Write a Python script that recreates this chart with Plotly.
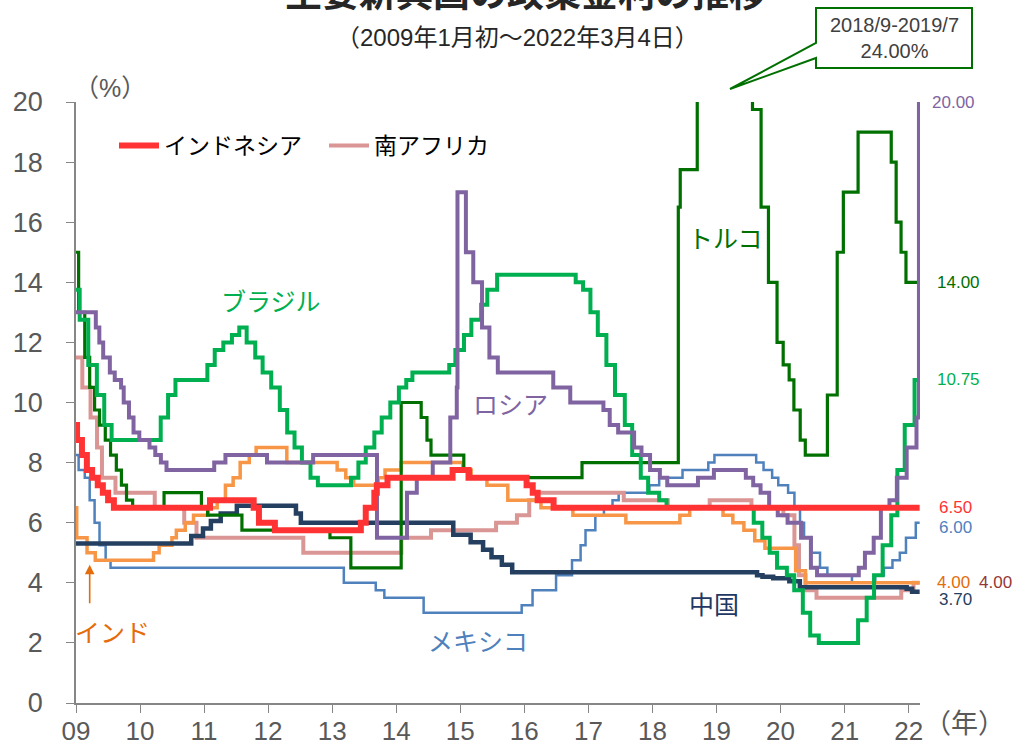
import plotly.graph_objects as go

# ---------------------------------------------------------------------------
# Policy rates (%), step series: date of change -> new rate
# ---------------------------------------------------------------------------
indonesia_dates = ["2009-01-01", "2009-01-07", "2009-02-04", "2009-03-04", "2009-04-03",
                   "2009-05-05", "2009-06-03", "2009-07-03", "2009-08-05", "2011-02-04",
                   "2011-10-11", "2011-11-10", "2012-02-09", "2013-06-13", "2013-07-11",
                   "2013-08-29", "2013-09-12", "2013-11-12", "2014-11-18", "2015-02-17",
                   "2016-01-14", "2016-02-18", "2016-03-17", "2016-06-16", "2022-03-04"]
indonesia_rates = [9.25, 8.75, 8.25, 7.75, 7.5, 7.25, 7.0, 6.75, 6.5, 6.75,
                   6.5, 6.0, 5.75, 6.0, 6.5, 7.0, 7.25, 7.5, 7.75, 7.5,
                   7.25, 7.0, 6.75, 6.5, 6.5]

south_africa_dates = ["2009-01-01", "2009-02-06", "2009-03-25", "2009-05-01", "2009-05-29",
                      "2009-08-14", "2010-03-26", "2010-09-10", "2010-11-19", "2012-07-20",
                      "2014-01-30", "2014-07-18", "2015-07-24", "2015-11-20", "2016-01-29",
                      "2016-03-18", "2017-07-21", "2018-03-29", "2018-11-23", "2019-07-19",
                      "2020-01-17", "2020-03-20", "2020-04-15", "2020-05-22", "2020-07-24",
                      "2021-11-19", "2022-01-28", "2022-03-04"]
south_africa_rates = [11.5, 10.5, 9.5, 8.5, 7.5, 7.0, 6.5, 6.0, 5.5, 5.0,
                      5.5, 5.75, 6.0, 6.25, 6.75, 7.0, 6.75, 6.5, 6.75, 6.5,
                      6.25, 5.25, 4.25, 3.75, 3.5, 3.75, 4.0, 4.0]

india_dates = ["2009-01-01", "2009-01-05", "2009-03-05", "2009-04-21", "2010-03-19",
               "2010-04-20", "2010-07-02", "2010-07-27", "2010-09-16", "2010-11-02",
               "2011-01-25", "2011-03-17", "2011-05-03", "2011-06-16", "2011-07-26",
               "2011-09-16", "2011-10-25", "2012-04-17", "2013-01-29", "2013-03-19",
               "2013-05-03", "2013-09-20", "2013-10-29", "2014-01-28", "2015-01-15",
               "2015-03-04", "2015-06-02", "2015-09-29", "2016-04-05", "2016-10-04",
               "2017-08-02", "2018-06-06", "2018-08-01", "2019-02-07", "2019-04-04",
               "2019-06-06", "2019-08-07", "2019-10-04", "2020-03-27", "2020-05-22",
               "2022-03-04"]
india_rates = [6.5, 5.5, 5.0, 4.75, 5.0, 5.25, 5.5, 5.75, 6.0, 6.25,
               6.5, 6.75, 7.25, 7.5, 8.0, 8.25, 8.5, 8.0, 7.75, 7.5,
               7.25, 7.5, 7.75, 8.0, 7.75, 7.5, 7.25, 6.75, 6.5, 6.25,
               6.0, 6.25, 6.5, 6.25, 6.0, 5.75, 5.4, 5.15, 4.4, 4.0,
               4.0]

mexico_dates = ["2009-01-01", "2009-01-16", "2009-02-20", "2009-03-20", "2009-04-17",
                "2009-05-15", "2009-06-19", "2009-07-17", "2013-03-08", "2013-09-06",
                "2013-10-25", "2014-06-06", "2015-12-17", "2016-02-17", "2016-06-30",
                "2016-09-29", "2016-11-17", "2016-12-15", "2017-02-09", "2017-03-30",
                "2017-05-18", "2017-06-22", "2017-12-14", "2018-02-08", "2018-06-21",
                "2018-11-15", "2018-12-20", "2019-08-15", "2019-09-26", "2019-11-14",
                "2019-12-19", "2020-02-13", "2020-03-20", "2020-04-21", "2020-05-14",
                "2020-06-25", "2020-08-13", "2020-09-24", "2021-02-11", "2021-06-24",
                "2021-08-12", "2021-09-30", "2021-11-11", "2021-12-16", "2022-02-10",
                "2022-03-04"]
mexico_rates = [8.25, 7.75, 7.5, 6.75, 6.0, 5.25, 4.75, 4.5, 4.0, 3.75,
                3.5, 3.0, 3.25, 3.75, 4.25, 4.75, 5.25, 5.75, 6.25, 6.5,
                6.75, 7.0, 7.25, 7.5, 7.75, 8.0, 8.25, 8.0, 7.75, 7.5,
                7.25, 7.0, 6.5, 6.0, 5.5, 5.0, 4.5, 4.25, 4.0, 4.25,
                4.5, 4.75, 5.0, 5.5, 6.0, 6.0]

china_dates = ["2009-01-01", "2010-10-20", "2010-12-26", "2011-02-09", "2011-04-06",
               "2011-07-07", "2012-06-08", "2012-07-06", "2014-11-22", "2015-03-01",
               "2015-05-11", "2015-06-28", "2015-08-26", "2015-10-24", "2019-08-20",
               "2019-09-20", "2019-11-20", "2020-02-20", "2020-04-20", "2021-12-20",
               "2022-01-20", "2022-03-04"]
china_rates = [5.31, 5.56, 5.81, 6.06, 6.31, 6.56, 6.31, 6.0, 5.6, 5.35,
               5.1, 4.85, 4.6, 4.35, 4.25, 4.2, 4.15, 4.05, 3.85, 3.8,
               3.7, 3.7]

russia_dates = ["2009-01-01", "2009-04-24", "2009-05-14", "2009-06-05", "2009-07-13",
                "2009-08-10", "2009-09-15", "2009-09-30", "2009-10-30", "2009-11-25",
                "2009-12-28", "2010-02-24", "2010-03-29", "2010-04-30", "2010-06-01",
                "2011-02-28", "2011-05-03", "2011-12-26", "2012-09-14", "2013-09-13",
                "2014-03-03", "2014-04-28", "2014-07-28", "2014-11-05", "2014-12-12",
                "2014-12-16", "2015-02-02", "2015-03-16", "2015-05-05", "2015-06-16",
                "2015-08-03", "2016-06-14", "2016-09-19", "2017-03-27", "2017-05-02",
                "2017-06-19", "2017-09-18", "2017-10-30", "2017-12-18", "2018-02-12",
                "2018-03-26", "2018-09-17", "2018-12-17", "2019-06-17", "2019-07-29",
                "2019-09-09", "2019-10-28", "2019-12-16", "2020-02-10", "2020-04-27",
                "2020-06-22", "2020-07-27", "2021-03-22", "2021-04-26", "2021-06-15",
                "2021-07-26", "2021-09-13", "2021-10-25", "2021-12-20", "2022-02-14",
                "2022-02-28", "2022-03-04"]
russia_rates = [13.0, 12.5, 12.0, 11.5, 11.0, 10.75, 10.5, 10.0, 9.5, 9.0,
                8.75, 8.5, 8.25, 8.0, 7.75, 8.0, 8.25, 8.0, 8.25, 5.5,
                7.0, 7.5, 8.0, 9.5, 10.5, 17.0, 15.0, 14.0, 12.5, 11.5,
                11.0, 10.5, 10.0, 9.75, 9.25, 9.0, 8.5, 8.25, 7.75, 7.5,
                7.25, 7.5, 7.75, 7.5, 7.25, 7.0, 6.5, 6.25, 6.0, 5.5,
                4.5, 4.25, 4.5, 5.0, 5.5, 6.5, 6.75, 7.5, 8.5, 9.5,
                20.0, 20.0]

brazil_dates = ["2009-01-01", "2009-01-22", "2009-03-12", "2009-04-30", "2009-06-11",
                "2009-07-23", "2010-04-29", "2010-06-10", "2010-07-22", "2011-01-20",
                "2011-03-03", "2011-04-21", "2011-06-09", "2011-07-21", "2011-09-01",
                "2011-10-20", "2011-12-01", "2012-01-19", "2012-03-08", "2012-04-19",
                "2012-05-31", "2012-07-12", "2012-08-30", "2012-10-11", "2013-04-18",
                "2013-05-30", "2013-07-11", "2013-08-29", "2013-10-10", "2013-11-28",
                "2014-01-16", "2014-02-27", "2014-04-03", "2014-10-30", "2014-12-04",
                "2015-01-22", "2015-03-05", "2015-04-30", "2015-06-04", "2015-07-30",
                "2016-10-20", "2016-12-01", "2017-01-12", "2017-02-23", "2017-04-13",
                "2017-06-01", "2017-07-27", "2017-09-07", "2017-10-26", "2017-12-07",
                "2018-02-08", "2018-03-22", "2019-08-01", "2019-09-19", "2019-10-31",
                "2019-12-12", "2020-02-06", "2020-03-19", "2020-05-07", "2020-06-18",
                "2020-08-06", "2021-03-18", "2021-05-06", "2021-06-17", "2021-08-05",
                "2021-09-23", "2021-10-28", "2021-12-09", "2022-02-03", "2022-03-04"]
brazil_rates = [13.75, 12.75, 11.25, 10.25, 9.25, 8.75, 9.5, 10.25, 10.75, 11.25,
                11.75, 12.0, 12.25, 12.5, 12.0, 11.5, 11.0, 10.5, 9.75, 9.0,
                8.5, 8.0, 7.5, 7.25, 7.5, 8.0, 8.5, 9.0, 9.5, 10.0,
                10.5, 10.75, 11.0, 11.25, 11.75, 12.25, 12.75, 13.25, 13.75, 14.25,
                14.0, 13.75, 13.0, 12.25, 11.25, 10.25, 9.25, 8.25, 7.5, 7.0,
                6.75, 6.5, 6.0, 5.5, 5.0, 4.5, 4.25, 3.75, 3.0, 2.25,
                2.0, 2.75, 3.5, 4.25, 5.25, 6.25, 7.75, 9.25, 10.75, 10.75]

turkey_dates = ["2009-01-01", "2009-01-16", "2009-02-20", "2009-03-20", "2009-04-17",
                "2009-05-15", "2009-06-17", "2009-07-17", "2009-08-19", "2009-09-17",
                "2009-10-16", "2009-11-20", "2010-05-18", "2010-12-17", "2011-01-21",
                "2011-08-05", "2012-12-19", "2013-04-17", "2014-01-29", "2014-05-23",
                "2014-06-25", "2014-07-18", "2015-01-21", "2015-02-25", "2016-11-25",
                "2018-05-28", "2018-06-08", "2018-09-13", "2019-07-25", "2019-09-12",
                "2019-10-24", "2019-12-12", "2020-01-16", "2020-02-19", "2020-03-17",
                "2020-04-22", "2020-05-21", "2020-09-24", "2020-11-19", "2020-12-24",
                "2021-03-18", "2021-09-23", "2021-10-21", "2021-11-18", "2021-12-16",
                "2022-03-04"]
turkey_rates = [15.0, 13.0, 11.5, 10.5, 9.75, 9.25, 8.75, 8.25, 7.75, 7.25,
                6.75, 6.5, 7.0, 6.5, 6.25, 5.75, 5.5, 4.5, 10.0, 9.5,
                8.75, 8.25, 7.75, 7.5, 8.0, 16.5, 17.75, 24.0, 19.75, 16.5,
                14.0, 12.0, 11.25, 10.75, 9.75, 8.75, 8.25, 10.25, 15.0, 17.0,
                19.0, 18.0, 16.0, 15.0, 14.0, 14.0]

year_ticks = ["2009-01-01", "2010-01-01", "2011-01-01", "2012-01-01", "2013-01-01",
              "2014-01-01", "2015-01-01", "2016-01-01", "2017-01-01", "2018-01-01",
              "2019-01-01", "2020-01-01", "2021-01-01", "2022-01-01"]
year_labels = ["09", "10", "11", "12", "13", "14", "15", "16", "17", "18", "19", "20", "21", "22"]
rate_ticks = [0, 2, 4, 6, 8, 10, 12, 14, 16, 18, 20]

# ---------------------------------------------------------------------------
# Page geometry (pixels)
# ---------------------------------------------------------------------------
W, H = 1012, 747
ML, MR, MT, MB = 76, 92, 102, 44
PW, PH = W - ML - MR, H - MT - MB


def px(x):
    return (x - ML) / PW


def py(y):
    return (H - MB - y) / PH


LATIN = "Liberation Sans, Arial, Noto Sans CJK JP, sans-serif"
JP = "Noto Sans CJK JP, sans-serif"
GREY = "#595959"

C_IDN = "#FF3333"
C_ZAF = "#DA9694"
C_IND = "#F79646"
C_MEX = "#4F81BD"
C_CHN = "#243F60"
C_RUS = "#8064A2"
C_BRA = "#00B050"
C_TUR = "#007000"

fig = go.Figure()

series = [
    ("メキシコ", mexico_dates, mexico_rates, C_MEX, 2.5, False),
    ("南アフリカ", south_africa_dates, south_africa_rates, C_ZAF, 4, True),
    ("インド", india_dates, india_rates, C_IND, 3.5, False),
    ("中国", china_dates, china_rates, C_CHN, 4.5, False),
    ("トルコ", turkey_dates, turkey_rates, C_TUR, 3.2, False),
    ("ブラジル", brazil_dates, brazil_rates, C_BRA, 4, False),
    ("ロシア", russia_dates, russia_rates, C_RUS, 4, False),
    ("インドネシア", indonesia_dates, indonesia_rates, C_IDN, 6, True),
]
ranks = {"インドネシア": 1, "南アフリカ": 2}
for name, d, v, c, w, show in series:
    fig.add_trace(go.Scatter(
        x=d, y=v, name=name, mode="lines",
        line=dict(color=c, width=w, shape="hv"),
        showlegend=show, legendrank=ranks.get(name, 1000),
        hoverinfo="skip",
    ))

annotations = []

# Title (top partly above the page) and subtitle
annotations.append(dict(text="<b>主要新興国の政策金利の推移</b>", xref="paper", yref="paper",
                        x=px(525), y=py(-9), xanchor="center", yanchor="middle", showarrow=False,
                        font=dict(family=JP, size=37, color="#262626")))
annotations.append(dict(text="（2009年1月初～2022年3月4日）", xref="paper", yref="paper",
                        x=px(517), y=py(37), xanchor="center", yanchor="middle", showarrow=False,
                        font=dict(family=LATIN, size=24, color="#262626")))

# Unit labels
annotations.append(dict(text="（%）", xref="paper", yref="paper", x=px(72), y=py(88),
                        xanchor="left", yanchor="middle", showarrow=False,
                        font=dict(family=LATIN, size=25, color=GREY)))
annotations.append(dict(text="（年）", xref="paper", yref="paper", x=px(922), y=py(724),
                        xanchor="left", yanchor="middle", showarrow=False,
                        font=dict(family=LATIN, size=27, color=GREY)))

# Country labels inside the plot
inline_labels = [
    ("ブラジル", "2012-01-20", 13.4, C_BRA),
    ("ロシア", "2015-10-12", 10.0, C_RUS),
    ("トルコ", "2019-02-20", 15.5, C_TUR),
    ("メキシコ", "2015-04-13", 2.1, C_MEX),
    ("中国", "2018-12-20", 3.33, "#1F3864"),
    ("インド", "2009-07-30", 2.4, "#E46C0A"),
]
for text, xd, yv, col in inline_labels:
    annotations.append(dict(text=text, x=xd, y=yv, xref="x", yref="y", showarrow=False,
                            xanchor="center", yanchor="middle",
                            font=dict(family=JP, size=25, color=col)))

# Arrow pointing at India's rate
annotations.append(dict(text="", x="2009-03-20", y=4.6, xref="x", yref="y",
                        showarrow=True, arrowhead=2, arrowsize=1.2, arrowwidth=1.6,
                        arrowcolor="#E46C0A", ax=0, ay=40))

# End-of-period values, taken from the last point of each series
end_labels = [
    (russia_rates[-1], C_RUS, 930, 0),
    (turkey_rates[-1], C_TUR, 935, 0),
    (brazil_rates[-1], C_BRA, 935, 0),
    (indonesia_rates[-1], C_IDN, 937, 0),
    (mexico_rates[-1], C_MEX, 937, -5),
    (india_rates[-1], "#E46C0A", 935, 0),
    (south_africa_rates[-1], "#953735", 977, 0),
    (china_rates[-1], C_CHN, 937, -8),
]
for val, col, xpix, ys in end_labels:
    annotations.append(dict(text=f"{val:.2f}", xref="paper", yref="y", x=px(xpix), y=val,
                            yshift=ys, xanchor="left", yanchor="middle", showarrow=False,
                            font=dict(family=LATIN, size=17, color=col)))

# Call-out for the peak of the Turkish rate above the axis range
box_l, box_r, box_t, box_b = 816, 972, 8, 68
tip_x, tip_y = 730, 89
wedge_top, wedge_bot = 43, 58
path = (f"M{px(box_l)},{py(box_t)} L{px(box_r)},{py(box_t)} L{px(box_r)},{py(box_b)} "
        f"L{px(box_l)},{py(box_b)} L{px(box_l)},{py(wedge_bot)} L{px(tip_x)},{py(tip_y)} "
        f"L{px(box_l)},{py(wedge_top)} Z")
shapes = [dict(type="path", path=path, xref="paper", yref="paper",
               line=dict(color=C_TUR, width=2), fillcolor="white", layer="above")]
annotations.append(dict(text="2018/9-2019/7<br>24.00%", xref="paper", yref="paper",
                        x=px((box_l + box_r) / 2), y=py((box_t + box_b) / 2),
                        xanchor="center", yanchor="middle", showarrow=False,
                        font=dict(family=LATIN, size=20, color="#404040")))

fig.update_layout(
    width=W, height=H,
    margin=dict(l=ML, r=MR, t=MT, b=MB, autoexpand=False),
    paper_bgcolor="white", plot_bgcolor="white",
    showlegend=True,
    legend=dict(orientation="h", x=px(114), y=py(124), xanchor="left", yanchor="top",
                font=dict(family=JP, size=23, color="#000000"),
                bgcolor="rgba(0,0,0,0)", entrywidth=155, entrywidthmode="pixels",
                itemwidth=40, tracegroupgap=0),
    annotations=annotations,
    shapes=shapes,
    xaxis=dict(type="date", range=["2009-01-01", "2022-03-06"],
               tickvals=year_ticks, ticktext=year_labels,
               ticks="outside", ticklen=8, tickcolor="#868686",
               showline=True, linecolor="#868686", linewidth=1.5,
               showgrid=False, zeroline=False, automargin=False, ticklabelstandoff=-4,
               tickfont=dict(family=LATIN, size=26, color=GREY)),
    yaxis=dict(range=[0, 20], tickvals=rate_ticks, ticks="outside", ticklen=8,
               tickcolor="#868686", showline=True, linecolor="#868686", linewidth=1.5,
               showgrid=False, zeroline=False, automargin=False, ticklabelstandoff=18,
               tickfont=dict(family=LATIN, size=27, color=GREY)),
)

fig.write_html("out.html")
